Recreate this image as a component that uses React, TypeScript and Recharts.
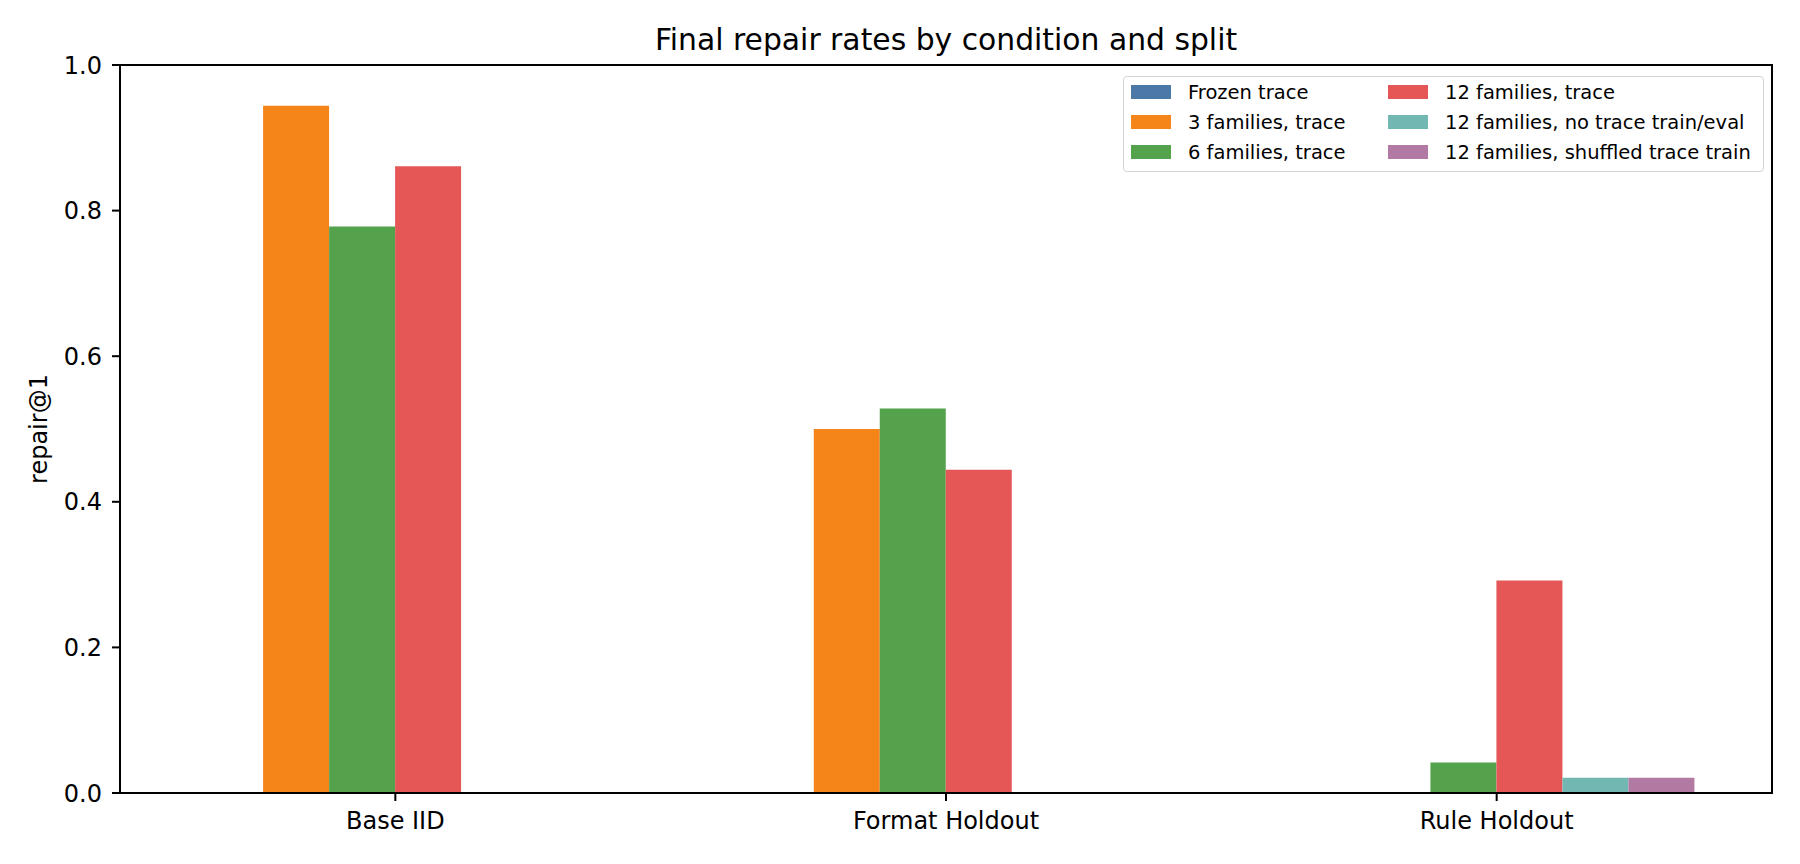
import { Bar, BarChart, ReferenceArea, XAxis, YAxis } from 'recharts'

const SPLITS = ['Base IID', 'Format Holdout', 'Rule Holdout']

const FROZEN = [0, 0, 0]
const FAM3 = [0.944, 0.5, 0]
const FAM6 = [0.778, 0.528, 0.042]
const FAM12 = [0.861, 0.444, 0.292]
const NO_TRACE = [0, 0, 0.021]
const SHUFFLED = [0, 0, 0.021]

const Y_TICKS = [0, 0.2, 0.4, 0.6, 0.8, 1.0]

const SERIES = [
  { key: 'frozen', label: 'Frozen trace', color: '#4c78a8', values: FROZEN },
  { key: 'fam3', label: '3 families, trace', color: '#f58518', values: FAM3 },
  { key: 'fam6', label: '6 families, trace', color: '#54a24b', values: FAM6 },
  { key: 'fam12', label: '12 families, trace', color: '#e45756', values: FAM12 },
  { key: 'noTrace', label: '12 families, no trace train/eval', color: '#72b7b2', values: NO_TRACE },
  { key: 'shuffled', label: '12 families, shuffled trace train', color: '#b279a2', values: SHUFFLED },
]

const chartData = SPLITS.map((split, i) => {
  const row: Record<string, string | number> = { split }
  SERIES.forEach((s) => {
    row[s.key] = s.values[i]
  })
  return row
})

const FONT = '"DejaVu Sans", sans-serif'
const AXIS = { stroke: '#000', strokeWidth: 2 }
const TICK_FONT = { fill: '#000', fontSize: 24, fontFamily: FONT }

// legend order is column-wise, like matplotlib's ncol=2
const legendItems = [SERIES[0], SERIES[3], SERIES[1], SERIES[4], SERIES[2], SERIES[5]]

const RepairLegend = () => (
  <div
    style={{
      position: 'absolute',
      left: 1123,
      top: 76,
      width: 641,
      height: 96,
      boxSizing: 'border-box',
      border: '1.5px solid #d4d4d4',
      borderRadius: 4,
      background: 'rgba(255,255,255,0.8)',
      padding: '0 8px 3px 7px',
      display: 'grid',
      gridTemplateColumns: '257px auto',
      gridAutoRows: 30,
      fontFamily: FONT,
      fontSize: 19.5,
      color: '#000',
    }}
  >
    {legendItems.map((s) => (
      <div key={s.key} style={{ display: 'flex', alignItems: 'center', whiteSpace: 'nowrap' }}>
        <span style={{ width: 40, height: 14, background: s.color, marginRight: 17, flex: 'none' }} />
        <span>{s.label}</span>
      </div>
    ))}
  </div>
)

export default function App() {
  return (
    <div style={{ position: 'absolute', left: 0, top: 0, width: 1800, height: 864, background: '#fff' }}>
      <BarChart
        width={1800}
        height={864}
        data={chartData}
        margin={{ top: 65, right: 28, left: 60, bottom: 0 }}
        barCategoryGap="14%"
        barGap={0}
      >
        <XAxis
          dataKey="split"
          height={71}
          axisLine={AXIS}
          tickLine={AXIS}
          tickSize={8}
          tickMargin={11}
          tick={TICK_FONT}
        />
        <YAxis
          domain={[0, 1]}
          ticks={Y_TICKS}
          width={60}
          axisLine={AXIS}
          tickLine={AXIS}
          tickSize={8}
          tickMargin={10}
          tickFormatter={(v: number) => v.toFixed(1)}
          tick={TICK_FONT}
        />
        {SERIES.map((s) => (
          <Bar key={s.key} dataKey={s.key} name={s.label} fill={s.color} isAnimationActive={false} />
        ))}
        {/* box frame (top and right spines) */}
        <ReferenceArea y1={0} y2={1} fill="none" fillOpacity={0} stroke="#000" strokeWidth={2} />
      </BarChart>
      <div
        style={{
          position: 'absolute',
          left: 0,
          width: 1892,
          top: 25,
          textAlign: 'center',
          fontFamily: FONT,
          fontSize: 29.8,
          lineHeight: '30px',
          color: '#000',
        }}
      >
        Final repair rates by condition and split
      </div>
      <div
        style={{
          position: 'absolute',
          left: 39,
          top: 429,
          transform: 'translate(-50%, -50%) rotate(-90deg)',
          fontFamily: FONT,
          fontSize: 24,
          whiteSpace: 'nowrap',
          color: '#000',
        }}
      >
        repair@1
      </div>
      <RepairLegend />
    </div>
  )
}
